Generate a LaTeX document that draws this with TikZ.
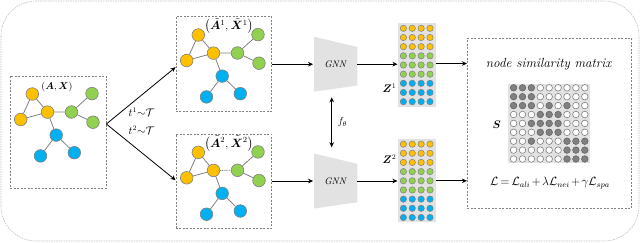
\documentclass[tikz,border=0pt]{standalone}
\usepackage{amsmath,bm}
\usetikzlibrary{arrows.meta,calc}
\definecolor{gorange}{HTML}{FFC000}
\definecolor{ggreen}{HTML}{92D050}
\definecolor{gblue}{HTML}{00B0F0}
\definecolor{edgegray}{HTML}{808080}
\definecolor{boxgray}{HTML}{808080}
\definecolor{outergray}{HTML}{BFBFBF}
\definecolor{fillgray}{HTML}{E2E2E2}
\definecolor{darkcell}{HTML}{808080}
\tikzset{
  gn/.style={circle, minimum size=12.6pt, inner sep=0pt, draw=edgegray, line width=0.6pt},
  gor/.style={gn, fill=gorange},
  ggr/.style={gn, fill=ggreen},
  gbl/.style={gn, fill=gblue},
  gedge/.style={draw=edgegray, line width=0.8pt},
  dbox/.style={draw=boxgray, dashed, dash pattern=on 2pt off 1.5pt, line width=0.7pt, inner sep=0pt},
  arr/.style={draw=black, line width=0.8pt, -{Stealth[length=5pt,width=4.5pt,inset=1.5pt]}},
  darr/.style={draw=black, line width=0.8pt, {Stealth[length=5pt,width=4.5pt,inset=1.5pt]}-{Stealth[length=5pt,width=4.5pt,inset=1.5pt]}},
  bg/.style={fill=fillgray, inner sep=0pt},
  lab/.style={inner sep=0pt},
  gnnbody/.style={fill=fillgray},
}
\newcommand{\mygraph}[3]{%
  \begin{scope}[shift={(#1)}]
    \node[gor] (#2ot) at (22.3,18.3) {};
    \node[gor] (#2ol) at (10.7,43.8) {};
    \node[gor] (#2oc) at (37.5,36.4) {};
    \node[ggr] (#2gc) at (61.5,36.3) {};
    \node[ggr] (#2gt) at (82.0,17.9) {};
    \node[ggr] (#2gr) at (83.0,46.5) {};
    \node[gbl] (#2bm) at (46.2,59.4) {};
    \node[gbl] (#2bl) at (30.5,80.2) {};
    \node[gbl] (#2br) at (64.3,77.0) {};
    \draw[gedge] (#2ot) -- (#2ol);
    \draw[gedge] (#2ot) -- (#2oc);
    \draw[gedge] (#2ol) -- (#2oc);
    \draw[gedge,#3] (#2oc) -- (#2gc);
    \draw[gedge] (#2gc) -- (#2gt);
    \draw[gedge] (#2gc) -- (#2gr);
    \draw[gedge] (#2oc) -- (#2bm);
    \draw[gedge] (#2bm) -- (#2bl);
    \draw[gedge] (#2bm) -- (#2br);
  \end{scope}}
\newcommand{\zmatrix}[1]{%
  \foreach \r/\col in {0/gorange,1/gorange,2/gorange,3/ggreen,4/ggreen,5/ggreen,6/gblue,7/gblue,8/gblue}{
    \foreach \c in {0,1,2,3}{
      \filldraw[fill=\col, draw=edgegray, line width=0.5pt]
        ($(#1)+(-13.3+8.87*\c,-36.7+9.17*\r)$) circle[radius=3.2pt];
    }
  }}
\begin{document}
\begin{tikzpicture}[x=1pt,y=-1pt]
\useasboundingbox (0,0) rectangle (640,242);
% outer frame
\draw[draw=outergray, dash pattern=on 1.5pt off 1pt, line width=0.6pt, rounded corners=35pt] (1,1) rectangle (639,241);

% input graph
\node[dbox, minimum width=96pt, minimum height=112.3pt] (box0) at (58,132) {};
\mygraph{10,75.7}{a}{}
\node[lab, font=\fontsize{10}{12}\selectfont] (lab0) at (57,87) {$(\bm{A},\bm{X})$};

% augmented graphs
\node[dbox, minimum width=95.7pt, minimum height=95pt] (box1) at (223.8,64.2) {};
\mygraph{176,16.7}{b}{}
\node[lab, font=\fontsize{11.5}{13}\selectfont] (lab1) at (228.8,26) {$\bigl(\tilde{\bm{A}}^{1},\tilde{\bm{X}}^{1}\bigr)$};

\node[dbox, minimum width=95.7pt, minimum height=94.3pt] (box2) at (223.8,181.2) {};
\mygraph{176,134}{c}{dash pattern=on 1pt off 0.8pt}
\node[lab, font=\fontsize{11.5}{13}\selectfont] (lab2) at (228.8,143.6) {$\bigl(\tilde{\bm{A}}^{2},\tilde{\bm{X}}^{2}\bigr)$};

% augmentation arrows
\coordinate (split) at ($(box0.east)+(0,-8)$);
\draw[arr] (split) -- ($(box1.west)+(0,3)$);
\draw[arr] (split) -- ($(box2.west)+(0,-1)$);
\node[lab, font=\fontsize{10.5}{12}\selectfont] (t1) at (141.5,112) {$t^{1}{\sim}\mathcal{T}$};
\node[lab, font=\fontsize{10.5}{12}\selectfont] (t2) at (141.5,130) {$t^{2}{\sim}\mathcal{T}$};

% GNN encoders
\coordinate (gnn1) at (335.6,64.2);
\coordinate (gnn2) at (335.6,181);
\foreach \g in {gnn1,gnn2}{
  \fill[gnnbody] ($(\g)+(-21.6,-27.5)$) -- ($(\g)+(21.7,-17.2)$) -- ($(\g)+(21.7,21.3)$) -- ($(\g)+(-21.6,27.5)$) -- cycle;
}
\node[lab, font=\fontsize{9.5}{11}\selectfont] (gnn1t) at (gnn1) {\textit{GNN}};
\node[lab, font=\fontsize{9.5}{11}\selectfont] (gnn2t) at (gnn2) {\textit{GNN}};
\coordinate (g1in) at ($(gnn1)+(-22.5,0)$);
\coordinate (g1out) at ($(gnn1)+(21.7,0)$);
\coordinate (g2in) at ($(gnn2)+(-22.5,0)$);
\coordinate (g2out) at ($(gnn2)+(21.7,0)$);
\draw[arr] (box1.east |- g1in) -- (g1in);
\draw[arr] (box2.east |- g2in) -- (g2in);

% shared parameters
\coordinate (fa) at (331.7,97.3);
\coordinate (fb) at (331.7,147.3);
\draw[darr] (fa) -- (fb);
\node[lab, font=\fontsize{10}{12}\selectfont] (ftheta) at (342.5,122) {$f_{\theta}$};

% embeddings
\node[bg, minimum width=38pt, minimum height=83.4pt] (z1) at (416.7,65) {};
\zmatrix{z1}
\node[bg, minimum width=38pt, minimum height=82.7pt] (z2) at (416.7,180.8) {};
\zmatrix{z2}
\node[lab, font=\fontsize{10.5}{12}\selectfont] (z1lab) at (389.5,88) {$\bm{Z}^{1}$};
\node[lab, font=\fontsize{10.5}{12}\selectfont] (z2lab) at (389.5,159) {$\bm{Z}^{2}$};
\draw[arr] (g1out) -- (g1out -| z1.west);
\draw[arr] (g2out) -- (g2out -| z2.west);

% similarity box
\node[dbox, minimum width=164.4pt, minimum height=170pt] (sbox) at (549.5,123.3) {};
\draw[arr] ($(z1.east)+(0,-1.5)$) -- ($(z1.east -| sbox.west)+(0,-1.5)$);
\draw[arr] (z2.east) -- (z2.east -| sbox.west);
\node[lab, font=\fontsize{13.2}{15}\selectfont] (stitle) at (549,64.5) {\textit{node similarity matrix}};
\node[bg, minimum width=81.7pt, minimum height=78.7pt] (smat) at (549.2,123.4) {};
\foreach \r/\row in {0/{1,1,1,0,0,0,0,0,0},1/{1,1,1,0,0,0,0,0,0},2/{1,1,1,0,1,0,1,0,0},3/{0,0,0,1,1,1,0,0,0},4/{0,0,1,1,1,1,0,0,0},5/{0,0,0,1,1,1,0,0,0},6/{0,0,1,0,0,0,1,1,1},7/{0,0,0,0,0,0,1,1,1},8/{0,0,0,0,0,0,1,1,1}}{
  \foreach \v [count=\c from 0] in \row {
    \def\fc{white}\def\dc{edgegray}
    \ifnum\v=1 \def\fc{darkcell}\def\dc{black!60}\fi
    \filldraw[fill=\fc, draw=\dc, line width=0.6pt] ($(smat)+(-35.6+8.9*\c,-35.6+8.9*\r)$) circle[radius=3.3pt];
  }
}
\node[lab, font=\fontsize{11}{13}\selectfont] (slab) at (496.7,124.3) {$\bm{S}$};
\node[lab, font=\fontsize{12}{14}\selectfont] (loss) at (550,183.5) {$\medmuskip=2mu\thickmuskip=3mu\mathcal{L}=\mathcal{L}_{ali}+\lambda\mathcal{L}_{nei}+\gamma\mathcal{L}_{spa}$};
\end{tikzpicture}
\end{document}
